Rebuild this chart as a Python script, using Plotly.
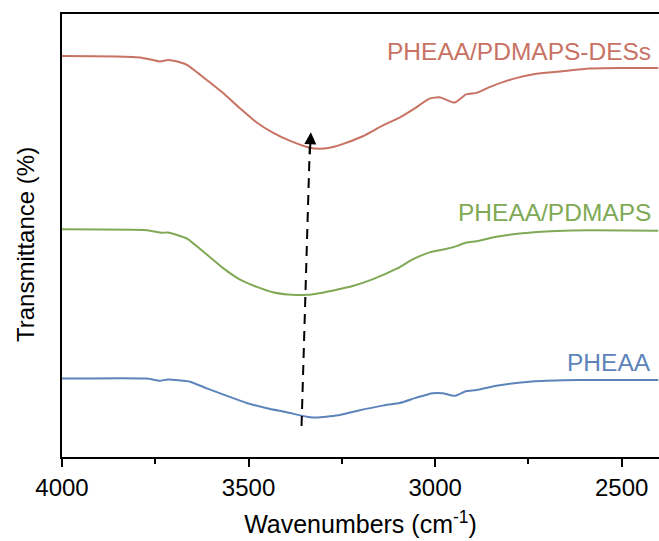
import plotly.graph_objects as go

# FTIR spectra (wavenumber in cm-1, stacked transmittance in %)
wn_des = [4000, 3791, 3738, 3716, 3680, 3665, 3612, 3569, 3524, 3478, 3435, 3390, 3336, 3309,
          3283, 3256, 3194, 3141, 3095, 3060, 3015, 2988, 2948, 2916, 2889, 2854, 2793, 2729,
          2659, 2587, 2498, 2402]
t_des = [90.5, 90.2, 89.3, 89.6, 89.0, 88.5, 85.1, 82.2, 78.8, 75.5, 73.2, 71.4, 69.8, 69.6,
         69.8, 70.4, 72.4, 74.8, 76.6, 78.4, 80.9, 81.2, 80.0, 81.9, 82.2, 83.5, 85.3, 86.5,
         87.1, 87.7, 87.8, 87.8]

wn_pdm = [4000, 3772, 3732, 3716, 3665, 3612, 3569, 3524, 3478, 3435, 3382, 3344, 3301, 3283,
          3256, 3221, 3168, 3103, 3060, 3015, 2969, 2943, 2916, 2889, 2836, 2766, 2675, 2587,
          2402]
t_pdm = [51.4, 51.2, 50.6, 50.7, 49.3, 45.7, 42.7, 40.1, 38.4, 37.2, 36.6, 36.6, 37.1, 37.4,
         37.9, 38.6, 40.1, 42.5, 44.6, 46.2, 47.0, 47.6, 48.4, 48.7, 49.7, 50.5, 51.0, 51.2,
         51.1]

wn_phe = [4000, 3772, 3738, 3716, 3657, 3612, 3558, 3505, 3451, 3398, 3344, 3317, 3283, 3256,
          3210, 3141, 3095, 3050, 3007, 2980, 2948, 2916, 2889, 2836, 2747, 2659, 2568, 2402]
t_phe = [17.7, 17.7, 17.2, 17.5, 17.0, 15.5, 13.8, 12.2, 11.0, 10.1, 9.1, 8.9, 9.2, 9.5,
         10.4, 11.6, 12.2, 13.4, 14.4, 14.4, 13.8, 14.9, 15.1, 16.1, 17.0, 17.3, 17.4, 17.4]

names = ["PHEAA/PDMAPS-DESs", "PHEAA/PDMAPS", "PHEAA"]
colors = ["#C87264", "#80A955", "#5D84BA"]
label_y = [91.6, 55.1, 21.4]
label_x = 2415

# shift arrow: from PHEAA band minimum up to the DES band minimum
arrow_wn = [3358, 3336]
arrow_t = [7.0, 70.0]
arrow_tip = (3333, 73.3)

font = "Liberation Sans, Arial, sans-serif"

fig = go.Figure()
for wn, t, c in zip([wn_des, wn_pdm, wn_phe], [t_des, t_pdm, t_phe], colors):
    fig.add_trace(go.Scatter(x=wn, y=t, mode="lines", line=dict(color=c, width=2, shape="spline", smoothing=0.5),
                             showlegend=False, hoverinfo="skip"))

fig.add_trace(go.Scatter(x=arrow_wn, y=arrow_t, mode="lines",
                         line=dict(color="black", width=2, dash="10px,7px"),
                         showlegend=False, hoverinfo="skip"))
fig.add_annotation(x=arrow_tip[0], y=arrow_tip[1], ax=arrow_wn[1], ay=arrow_t[1] - 2,
                   xref="x", yref="y", axref="x", ayref="y", text="", showarrow=True,
                   arrowhead=2, arrowsize=1.2, arrowwidth=2, arrowcolor="black")

for n, c, y in zip(names, colors, label_y):
    fig.add_annotation(x=label_x, y=y, xref="x", yref="y", text=n, showarrow=False,
                       xanchor="right", yanchor="middle",
                       font=dict(family=font, size=24.5, color=c))

# vertical axis title, placed slightly below the plot centre
fig.add_annotation(x=25, y=245, xref="paper", yref="paper", text="Transmittance (%)",
                   textangle=-90, showarrow=False, xanchor="center", yanchor="middle",
                   font=dict(family=font, size=24, color="black"))

fig.update_layout(
    width=659, height=541,
    margin=dict(l=62, r=0, t=14, b=84),
    paper_bgcolor="white", plot_bgcolor="white",
    font=dict(family=font, size=24, color="black"),
    xaxis=dict(range=[4000, 2400], tickvals=[4000, 3500, 3000, 2500],
               ticks="outside", ticklen=8, tickwidth=2, tickcolor="black",
               minor=dict(tickvals=[3750, 3250, 2750], ticks="outside", ticklen=5, tickwidth=2, tickcolor="black"),
               showline=True, linewidth=2, linecolor="black", mirror=True,
               showgrid=False, zeroline=False,
               tickfont=dict(family=font, size=24, color="black"),
               title=dict(text="Wavenumbers (cm<sup>-1</sup>)", standoff=16,
                          font=dict(family=font, size=25, color="black"))),
    yaxis=dict(range=[0, 100], showticklabels=False, ticks="",
               showline=True, linewidth=2, linecolor="black", mirror=False,
               showgrid=False, zeroline=False),
)

# convert the pixel-based title position into paper coordinates
plot_w = 659 - 62
plot_h = 541 - 14 - 84
fig.layout.annotations[-1].x = (25 - 62) / plot_w
fig.layout.annotations[-1].y = (541 - 84 - 245) / plot_h

fig.write_html("out.html")
